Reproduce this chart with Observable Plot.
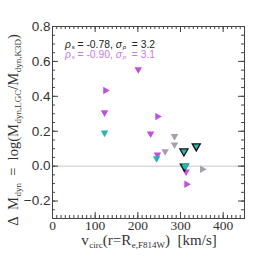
<!DOCTYPE html>
<html><head><meta charset="utf-8">
<script src="https://cdn.jsdelivr.net/npm/d3@7"></script>
<script src="https://cdn.jsdelivr.net/npm/@observablehq/plot@0.6"></script>
<style>body{margin:0;background:#fff}</style>
</head><body><div id="chart"></div>
<script>
// data (v_circ in km/s, Delta M_dyn)
const vMagDown = [201, 122, 230, 246, 313];
const dMagDown = [0.554, 0.307, 0.186, 0.066, -0.032];
const vMagRight = [124, 246, 314];
const dMagRight = [0.433, 0.284, -0.104];
const vGrayDown = [286, 286, 264];
const dGrayDown = [0.171, 0.123, 0.084];
const vGrayRight = [351];
const dGrayRight = [-0.018];
const vTealEdge = [308, 337, 309];
const dTealEdge = [0.085, 0.114, -0.002];
const vTealDown = [122, 244, 312];
const dTealDown = [0.191, 0.044, 0.002];
const xMajor = [0, 100, 200, 300, 400];
const yMajor = [-0.2, 0, 0.2, 0.4, 0.6, 0.8];
const xMinor = d3.range(0, 46).map(i => i * 10);
const yMinor = d3.range(-6, 17).map(i => +(i * 0.05).toFixed(2));
const stats = ["-0.78, ", "-0.90, "];
const sig = ["3.2", "3.1"];

const zip = (vs, ds) => vs.map((v, i) => ({v, d: ds[i]}));
const MAG = "#c04fe0", TEAL = "#25b5b2", GRAY = "#aa9db2";
const W = 258, H = 258, ML = 52, MR = 14, MT = 26, MB = 40;
const IH = H - MT - MB, IW = W - ML - MR;

const plot = Plot.plot({
  width: W, height: H,
  marginLeft: ML, marginRight: MR, marginTop: MT, marginBottom: MB,
  x: {domain: [0, 450]},
  y: {domain: [-0.3, 0.8]},
  style: {background: "#fff", overflow: "visible"},
  marks: [
    Plot.ruleY([0], {stroke: "#c8c8c8", strokeWidth: 1}),
    Plot.tickX(xMinor, {x: d => d, insetTop: IH - 3, stroke: "#444"}),
    Plot.tickX(xMinor, {x: d => d, insetBottom: IH - 3, stroke: "#444"}),
    Plot.tickX(xMajor, {x: d => d, insetTop: IH - 6, stroke: "#444"}),
    Plot.tickX(xMajor, {x: d => d, insetBottom: IH - 6, stroke: "#444"}),
    Plot.tickY(yMinor, {y: d => d, insetRight: IW - 3, stroke: "#444"}),
    Plot.tickY(yMinor, {y: d => d, insetLeft: IW - 3, stroke: "#444"}),
    Plot.tickY(yMajor, {y: d => d, insetRight: IW - 6, stroke: "#444"}),
    Plot.tickY(yMajor, {y: d => d, insetLeft: IW - 6, stroke: "#444"}),
    Plot.frame({stroke: "#444"}),
    Plot.axisX(xMajor, {tickSize: 0, tickPadding: 2, label: null, fontSize: 13.5, fontFamily: "Liberation Serif", fill: "#333"}),
    Plot.axisY(yMajor, {tickSize: 0, tickPadding: 2, label: null, fontSize: 13.5, fontFamily: "Liberation Sans", fill: "#333", tickFormat: d3.format(".1f")}),
    Plot.dot(zip(vGrayDown, dGrayDown), {x: "v", y: "d", symbol: "triangle", rotate: 180, r: 2.8, fill: GRAY}),
    Plot.dot(zip(vGrayRight, dGrayRight), {x: "v", y: "d", symbol: "triangle", rotate: 90, r: 2.8, fill: GRAY}),
    Plot.dot(zip(vMagDown, dMagDown), {x: "v", y: "d", symbol: "triangle", rotate: 180, r: 2.8, fill: MAG}),
    Plot.dot(zip(vMagRight, dMagRight), {x: "v", y: "d", symbol: "triangle", rotate: 90, r: 2.8, fill: MAG}),
    Plot.dot(zip(vTealEdge, dTealEdge), {x: "v", y: "d", symbol: "triangle", rotate: 180, r: 3, fill: TEAL, stroke: "#111", strokeWidth: 1.3}),
    Plot.dot(zip(vTealDown, dTealDown), {x: "v", y: "d", symbol: "triangle", rotate: 180, r: 2.8, fill: TEAL})
  ]
});
document.getElementById("chart").append(plot);

const svg = d3.select(plot);
function addText(sel, parts, subSize) {
  parts.forEach(([t, sub]) => {
    const ts = sel.append("tspan").text(t);
    if (sub) ts.attr("font-size", sub === 1 ? subSize : null).attr("dy", sub === 1 ? 3 : -3).attr("dx", sub === 1 ? 0.6 : null);
  });
}
// x label
const xl = svg.append("text").attr("x", 149).attr("y", 245).attr("text-anchor", "middle")
  .attr("font-family", "Liberation Serif").attr("font-size", 15).attr("fill", "#333");
addText(xl, [["v"], ["circ", 1], ["(r=R", -1], ["e,F814W", 1], [")  [km/s]", -1]], 9);
// y label
const yl = svg.append("text").attr("transform", "translate(18,130) rotate(-90)").attr("text-anchor", "middle")
  .attr("font-family", "Liberation Serif").attr("font-size", 14.5).attr("fill", "#333");
addText(yl, [["Δ  M"], ["dyn", 1], ["  =  log(M", -1], ["dyn,LGC", 1], ["/M", -1], ["dyn,K3D", 1], [")", -1]], 9);
// stats text
const cols = ["#222", "#c77be6"];
[0, 1].forEach(i => {
  const t = svg.append("text").attr("x", 65).attr("y", 47.5 + i * 10).attr("text-anchor", "start")
    .attr("font-family", "Liberation Sans").attr("font-size", 10.3).attr("fill", cols[i]);
  t.append("tspan").attr("font-style", "italic").text("ρ");
  t.append("tspan").attr("font-size", 6).attr("dy", 1.5).attr("dx", 0.8).text("s");
  t.append("tspan").attr("dy", -1.5).text(" = " + stats[i]);
  t.append("tspan").attr("font-style", "italic").text("σ");
  t.append("tspan").attr("font-size", 6).attr("dy", 1.5).attr("dx", 0.8).attr("font-style", "italic").text("ρ");
  t.append("tspan").attr("dy", -1.5).text("  = " + sig[i]);
});
</script></body></html>
